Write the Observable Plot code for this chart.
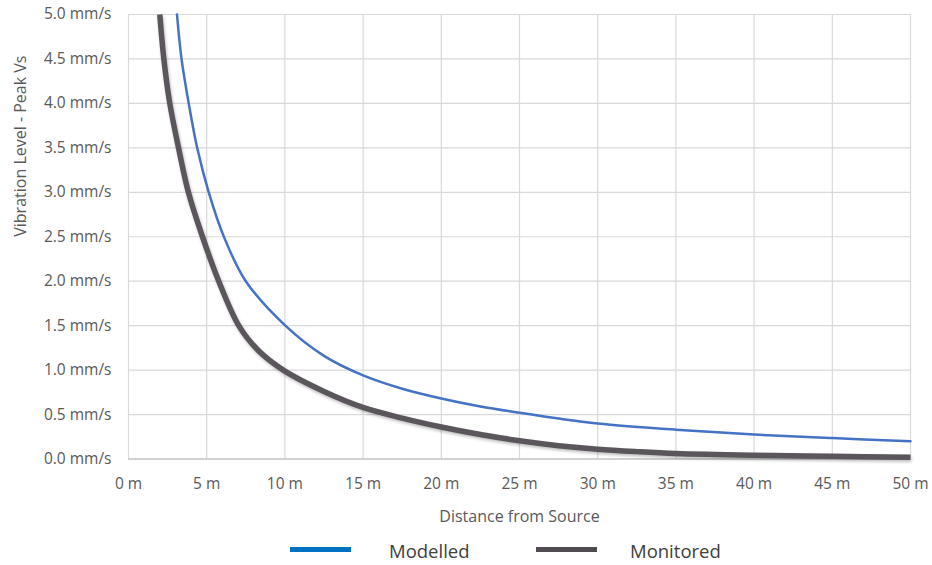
<!DOCTYPE html>
<html>
<head>
<meta charset="utf-8">
<script src="https://cdn.jsdelivr.net/npm/d3@7"></script>
<script src="https://cdn.jsdelivr.net/npm/@observablehq/plot@0.6"></script>
<style>
  html, body { margin: 0; padding: 0; background: #fff; }
  #wrap { position: relative; width: 932px; height: 565px; font-family: "Open Sans", sans-serif; }
  #legend { position: absolute; left: 0; top: 530px; width: 932px; height: 35px; }
  .sw { position: absolute; height: 5px; }
  .lt { position: absolute; font-size: 18.5px; color: #404040; line-height: 22px; }
  .mon-line path { filter: drop-shadow(1px 2px 1.5px rgba(0,0,0,0.25)); }
</style>
</head>
<body>
<div id="wrap"><div id="chart"></div><div id="legend"></div></div>
<script>
const seriesNames = ["Modelled", "Monitored"];
const seriesColors = ["#4472C4", "#5a565b"];
const legendColors = ["#0070C0", "#4f4b50"];

const modelledDistance = [3.1, 3.39, 3.85, 4.39, 5.13, 6.1, 7.5, 10.03, 12.5, 15, 17.5, 20, 22.5, 25, 27.5, 30, 35, 40, 45, 50];
const modelledVelocity = [5.0, 4.5, 4.0, 3.5, 3.0, 2.5, 2.0, 1.5, 1.16, 0.94, 0.79, 0.68, 0.59, 0.52, 0.455, 0.40, 0.33, 0.275, 0.235, 0.20];

const monitoredDistance = [2.0, 2.26, 2.64, 3.2, 3.83, 4.73, 5.77, 7.05, 8.3, 9.9, 12.5, 15, 17.5, 20, 22.5, 25, 27.5, 30, 32.5, 35, 40, 45, 50];
const monitoredVelocity = [5.0, 4.5, 4.0, 3.5, 3.0, 2.5, 2.0, 1.5, 1.22, 1.0, 0.76, 0.58, 0.46, 0.36, 0.275, 0.205, 0.15, 0.11, 0.083, 0.062, 0.042, 0.03, 0.02];

const xTicks = [0, 5, 10, 15, 20, 25, 30, 35, 40, 45, 50];
const yTicks = [0, 0.5, 1, 1.5, 2, 2.5, 3, 3.5, 4, 4.5, 5];
const xLabel = "Distance from Source";
const yLabel = "Vibration Level - Peak Vs";

const modelled = modelledDistance.map((d, i) => ({d, v: modelledVelocity[i]}));
const monitored = monitoredDistance.map((d, i) => ({d, v: monitoredVelocity[i]}));

const chart = Plot.plot({
  width: 932,
  height: 530,
  marginLeft: 128,
  marginRight: 22,
  marginTop: 14,
  marginBottom: 71.5,
  style: {fontFamily: "'Open Sans', sans-serif", background: "#fff"},
  x: {domain: [0, 50]},
  y: {domain: [0, 5]},
  marks: [
    Plot.gridX(xTicks, {stroke: "#d9d9d9", strokeOpacity: 1, strokeWidth: 1.2}),
    Plot.gridY(yTicks, {stroke: "#d9d9d9", strokeOpacity: 1, strokeWidth: 1.2}),
    Plot.ruleY([0], {stroke: "#c8c8c8", strokeWidth: 1.4}),
    Plot.axisX(xTicks, {tickSize: 0, tickPadding: 19, tickFormat: d => `${d} m`, fontSize: 15.5, fill: "#595959", label: null}),
    Plot.axisY(yTicks, {tickSize: 0, tickPadding: 17, tickFormat: d => `${d.toFixed(1)} mm/s`, fontSize: 15.5, fill: "#595959", label: null}),
    Plot.text([xLabel], {frameAnchor: "bottom", dy: 57.5, fontSize: 16, fill: "#595959", lineAnchor: "middle"}),
    Plot.text([yLabel], {frameAnchor: "left", dx: -108, rotate: -90, fontSize: 16, fill: "#595959", lineAnchor: "middle"}),
    Plot.line(modelled, {x: "d", y: "v", stroke: seriesColors[0], strokeWidth: 2.5, curve: "catmull-rom"}),
    Plot.line(monitored, {x: "d", y: "v", stroke: seriesColors[1], strokeWidth: 5.5, curve: "catmull-rom", strokeLinecap: "butt", className: "mon-line"})
  ]
});
document.getElementById("chart").appendChild(chart);

const legend = document.getElementById("legend");
const swX = [290, 536];
const txX = [389, 630];
seriesNames.forEach((name, i) => {
  const sw = document.createElement("div");
  sw.className = "sw";
  sw.style.left = swX[i] + "px";
  sw.style.width = "61px";
  sw.style.top = "17px";
  sw.style.background = legendColors[i];
  legend.appendChild(sw);
  const t = document.createElement("div");
  t.className = "lt";
  t.style.left = txX[i] + "px";
  t.style.top = "10px";
  t.textContent = name;
  legend.appendChild(t);
});
</script>
</body>
</html>
